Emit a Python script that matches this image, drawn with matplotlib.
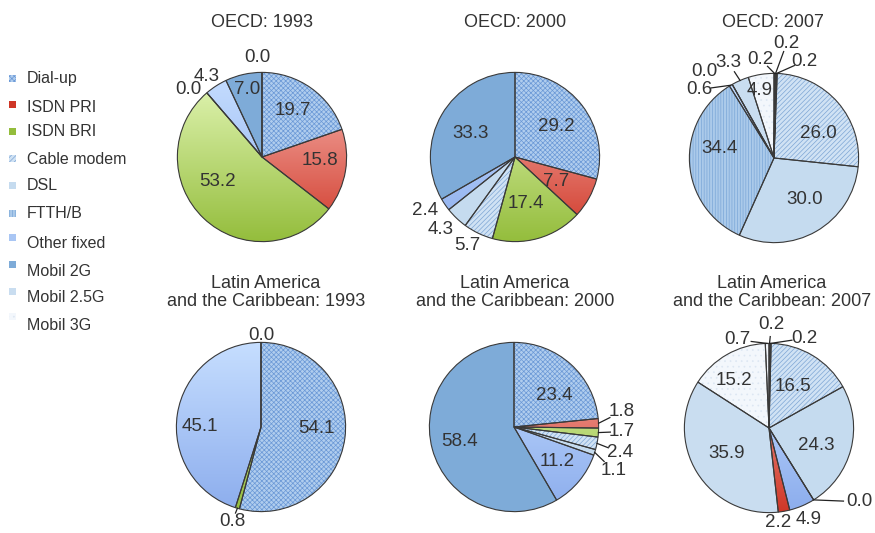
import numpy as np
import matplotlib.pyplot as plt
from matplotlib.patches import Wedge, Rectangle
from matplotlib.colors import LinearSegmentedColormap

plt.rcParams['font.family'] = ['Liberation Sans', 'DejaVu Sans']
plt.rcParams['hatch.linewidth'] = 0.5

TXT = '#333333'
EDGE = '#3a3a3a'

# legend order
categories = ['Dial-up', 'ISDN PRI', 'ISDN BRI', 'Cable modem', 'DSL', 'FTTH/B',
              'Other fixed', 'Mobil 2G', 'Mobil 2.5G', 'Mobil 3G']

# slices in drawing order (clockwise from 12 o'clock)
oecd_1993_kind = ['Dial-up', 'ISDN PRI', 'ISDN BRI', 'Cable modem', 'Other fixed', 'Mobil 2G', 'Mobil 2.5G']
oecd_1993_vals = [19.7, 15.8, 53.2, 0.0, 4.3, 7.0, 0.0]

oecd_2000_kind = ['Dial-up', 'ISDN PRI', 'ISDN BRI', 'Cable modem', 'DSL', 'Other fixed', 'Mobil 2G']
oecd_2000_vals = [29.2, 7.7, 17.4, 5.7, 4.3, 2.4, 33.3]

oecd_2007_kind = ['Dial-up', 'ISDN PRI', 'ISDN BRI', 'Cable modem', 'DSL', 'FTTH/B',
                  'Other fixed', 'Mobil 2G', 'Mobil 2.5G', 'Mobil 3G']
oecd_2007_vals = [0.2, 0.2, 0.2, 26.0, 30.0, 34.4, 0.6, 0.0, 3.3, 4.9]

lac_1993_kind = ['Dial-up', 'ISDN BRI', 'Other fixed', 'Mobil 2G']
lac_1993_vals = [54.1, 0.8, 45.1, 0.0]

lac_2000_kind = ['Dial-up', 'ISDN PRI', 'ISDN BRI', 'Cable modem', 'DSL', 'Other fixed', 'Mobil 2G']
lac_2000_vals = [23.4, 1.8, 1.7, 2.4, 1.1, 11.2, 58.4]

lac_2007_kind = ['Dial-up', 'ISDN BRI', 'Cable modem', 'DSL', 'FTTH/B', 'Other fixed',
                 'ISDN PRI', 'Mobil 2.5G', 'Mobil 3G', 'Mobil 3G']
lac_2007_vals = [0.2, 0.2, 16.5, 24.3, 0.0, 4.9, 2.2, 35.9, 15.2, 0.7]

# label placement: (radius, angle shift in deg, leader gap or None)
oecd_1993_lbl = [(0.66, 2, None), (0.69, 6, None), (0.60, -17, None), (1.18, 7, None),
                 (1.15, 1.5, None), (0.82, 0, None), (1.18, 2.4, None)]
oecd_2000_lbl = [(0.61, -1, None), (0.56, -2, None), (0.57, -2.5, None), (1.19, -2.8, None),
                 (1.22, -2, None), (1.23, -3.5, None), (0.59, 1.8, None)]
oecd_2007_lbl = [(1.18, 8.2, 0.12), (1.36, -5.2, 0.10), (1.20, -15.6, 0.13), (0.60, -12, None),
                 (0.61, 6.4, None), (0.65, -13.8, None), (1.20, 17, 0.15), (1.31, 9.4, None),
                 (1.25, 1.9, 0.13), (0.82, 2.8, None)]
lac_1993_lbl = [(0.66, 5.7, None), (1.17, -0.8, 0.11), (0.72, 8.8, None), (1.08, 0, None)]
lac_2000_lbl = [(0.61, -9.9, None), (1.28, 5.5, 0.15), (1.27, 1.3, 0.13), (1.29, -2.3, 0.15),
                (1.28, -6.1, 0.15), (0.65, 0.6, None), (0.67, 0, None)]
lac_2007_lbl = [(1.22, -1, 0.14), (1.14, -20.5, 0.15), (0.57, 0.7, None), (0.60, -6.1, None),
                (1.38, 19, 0.19), (1.18, 0.5, None), (1.12, -4.5, None), (0.58, -0.7, None),
                (0.70, 7, None), (1.11, 18.7, 0.17)]

style = {
    'Dial-up':     dict(fc='#b0cdee', hatch='xxxxxxx', hc='#6a98d6'),
    'ISDN PRI':    dict(fc='#e4756c', grad=('#f8b8b2', '#cf3626')),
    'ISDN BRI':    dict(fc='#bcdc7a', grad=('#e4f7b8', '#94bd3c')),
    'Cable modem': dict(fc='#d0e2f4', hatch='///////', hc='#7ea6d5'),
    'DSL':         dict(fc='#c5dbef'),
    'FTTH/B':      dict(fc='#abcaea', hatch='||||||', hc='#7ba7d8'),
    'Other fixed': dict(fc='#a9c6f4', grad=('#c6deff', '#8caded')),
    'Mobil 2G':    dict(fc='#7eabd8'),
    'Mobil 2.5G':  dict(fc='#c9ddf0'),
    'Mobil 3G':    dict(fc='#f3f7fc', hatch='...', hc='#dde7f3'),
}

W, H = 875, 533
fig = plt.figure(figsize=(W / 100, H / 100), dpi=100)

# overlay in pixel units for titles and legend
bg = fig.add_axes([0, 0, 1, 1])
bg.set_xlim(0, W)
bg.set_ylim(H, 0)
bg.axis('off')


def draw_pie(cx, cy, vals, kinds, lbls):
    half = 110
    ax = fig.add_axes([(cx - half) / W, (H - cy - half) / H, 2 * half / W, 2 * half / H])
    wedges, _ = ax.pie(vals, startangle=90, counterclock=False, radius=1,
                       colors=[style[k]['fc'] for k in kinds],
                       wedgeprops=dict(linewidth=0, edgecolor='none'))
    grad = np.linspace(0, 1, 256).reshape(-1, 1)
    for w, k, v, (r, dang, gap) in zip(wedges, kinds, vals, lbls):
        st = style[k]
        if 'grad' in st:
            cmap = LinearSegmentedColormap.from_list(k, list(st['grad']))
            im = ax.imshow(grad, cmap=cmap, extent=(-1, 1, -1, 1), origin='upper',
                           aspect='auto', zorder=1.5)
            im.set_clip_path(w)
        if 'hatch' in st:
            ax.add_patch(Wedge((0, 0), 1, w.theta1, w.theta2, facecolor='none',
                               edgecolor=st['hc'], linewidth=0, hatch=st['hatch'], zorder=2))
        ax.add_patch(Wedge((0, 0), 1, w.theta1, w.theta2, facecolor='none',
                           edgecolor=EDGE, linewidth=0.8, zorder=3))
        mid = np.deg2rad((w.theta1 + w.theta2) / 2)
        ang = mid + np.deg2rad(dang)
        tx, ty = r * np.cos(ang), r * np.sin(ang)
        ax.text(tx, ty, f'{v:.1f}', ha='center', va='center', fontsize=13.5,
                color=TXT, zorder=5)
        if gap is not None:
            x0, y0 = np.cos(mid), np.sin(mid)
            d = np.hypot(tx - x0, ty - y0)
            f = max(d - gap, 0) / d
            ax.plot([x0, x0 + (tx - x0) * f], [y0, y0 + (ty - y0) * f],
                    color='#222222', lw=0.9, zorder=4, clip_on=False)
    ax.set_xlim(-1.3, 1.3)
    ax.set_ylim(-1.3, 1.3)
    ax.set_aspect('equal')
    ax.axis('off')


draw_pie(262, 157, oecd_1993_vals, oecd_1993_kind, oecd_1993_lbl)
draw_pie(515, 157, oecd_2000_vals, oecd_2000_kind, oecd_2000_lbl)
draw_pie(774, 158, oecd_2007_vals, oecd_2007_kind, oecd_2007_lbl)
draw_pie(261, 427, lac_1993_vals, lac_1993_kind, lac_1993_lbl)
draw_pie(514, 427, lac_2000_vals, lac_2000_kind, lac_2000_lbl)
draw_pie(769, 428, lac_2007_vals, lac_2007_kind, lac_2007_lbl)

# titles
for x, yr in [(262, 1993), (515, 2000), (773, 2007)]:
    bg.text(x, 27, f'OECD: {yr}', ha='center', va='baseline', fontsize=13, color=TXT)
for x, yr in [(266, 1993), (515, 2000), (772, 2007)]:
    bg.text(x, 288, 'Latin America', ha='center', va='baseline', fontsize=13, color=TXT)
    bg.text(x, 306, f'and the Caribbean: {yr}', ha='center', va='baseline', fontsize=13, color=TXT)

# legend
mark_y = [78, 104, 131, 158, 185, 213, 237, 264, 291, 316]
text_y = [79, 107, 132, 159, 186, 213, 244, 272, 298, 325]
for cat, my, ty in zip(categories, mark_y, text_y):
    st = style[cat]
    fc = st['grad'][1] if 'grad' in st else st['fc']
    if cat == 'Other fixed':
        fc = st['fc']
    bg.add_patch(Rectangle((9, my - 3.5), 7, 7, facecolor=fc, edgecolor='none'))
    if 'hatch' in st:
        bg.add_patch(Rectangle((9, my - 3.5), 7, 7, facecolor='none', edgecolor=st['hc'],
                               linewidth=0, hatch=st['hatch']))
    bg.text(27, ty, cat, ha='left', va='center', fontsize=11.5, color=TXT)

fig.savefig('out.png', dpi=100)
